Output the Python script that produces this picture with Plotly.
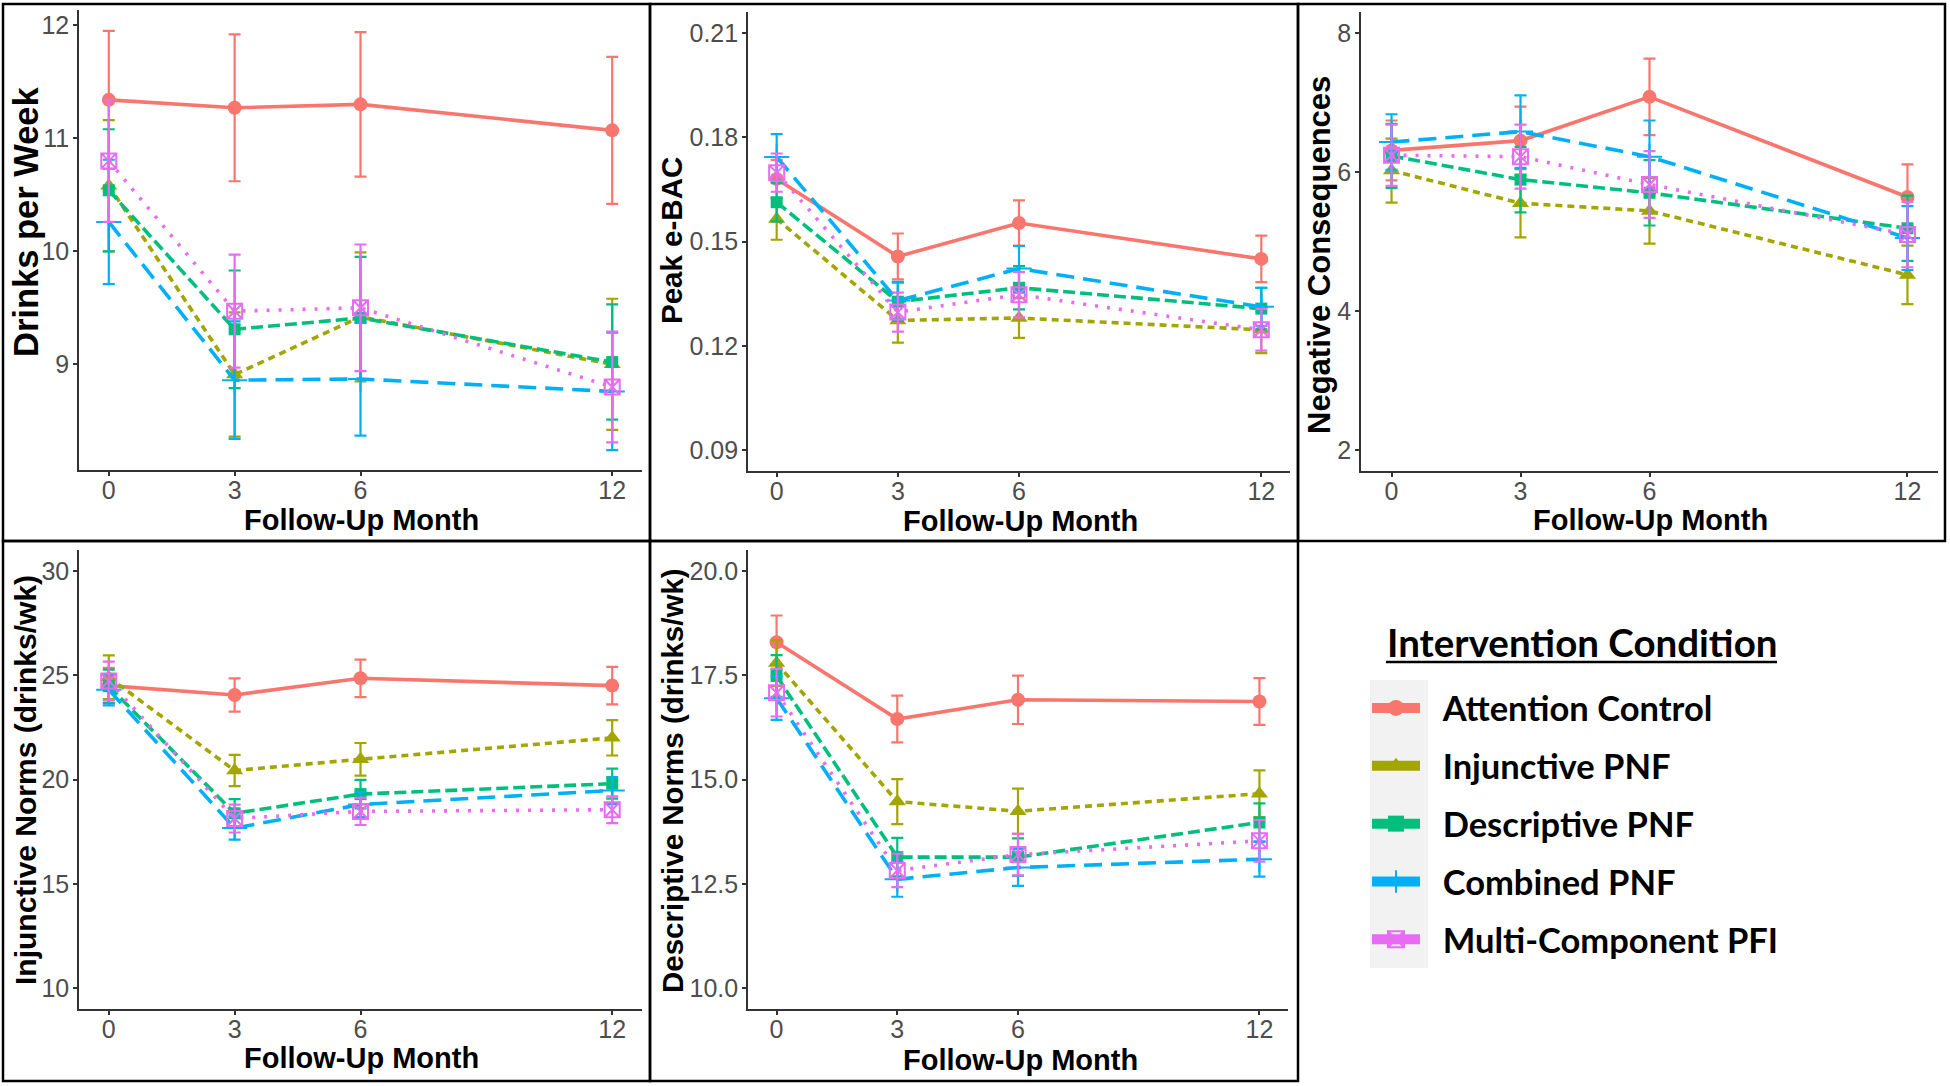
import plotly.graph_objects as go

W, H = 1950, 1086

months = [0, 3, 6, 12]
groups = ["Attention Control", "Injunctive PNF", "Descriptive PNF", "Combined PNF", "Multi-Component PFI"]

drinks_mean = [
    [11.34, 11.27, 11.30, 11.07],
    [10.58, 8.91, 9.42, 9.00],
    [10.54, 9.31, 9.41, 9.02],
    [10.26, 8.86, 8.87, 8.76],
    [10.80, 9.47, 9.50, 8.80],
]
drinks_se = [
    [0.61, 0.65, 0.64, 0.65],
    [0.58, 0.55, 0.57, 0.58],
    [0.54, 0.52, 0.54, 0.51],
    [0.55, 0.52, 0.50, 0.52],
    [0.54, 0.50, 0.56, 0.49],
]
bac_mean = [
    [0.1680, 0.1457, 0.1553, 0.1450],
    [0.1565, 0.1273, 0.1280, 0.1246],
    [0.1613, 0.1327, 0.1367, 0.1307],
    [0.1743, 0.1330, 0.1422, 0.1312],
    [0.1698, 0.1297, 0.1347, 0.1246],
]
bac_se = [
    [0.0055, 0.0066, 0.0065, 0.0067],
    [0.0060, 0.0064, 0.0057, 0.0067],
    [0.0055, 0.0055, 0.0062, 0.0060],
    [0.0066, 0.0054, 0.0065, 0.0055],
    [0.0055, 0.0056, 0.0065, 0.0060],
]
neg_mean = [
    [6.31, 6.45, 7.08, 5.64],
    [6.02, 5.55, 5.44, 4.52],
    [6.23, 5.89, 5.70, 5.19],
    [6.43, 6.58, 6.22, 5.05],
    [6.24, 6.22, 5.82, 5.10],
]
neg_se = [
    [0.43, 0.49, 0.55, 0.47],
    [0.46, 0.49, 0.47, 0.42],
    [0.46, 0.47, 0.47, 0.47],
    [0.40, 0.52, 0.52, 0.46],
    [0.44, 0.46, 0.48, 0.47],
]
inj_mean = [
    [24.50, 24.05, 24.85, 24.50],
    [24.90, 20.43, 20.97, 22.00],
    [24.47, 18.38, 19.30, 19.80],
    [24.30, 17.67, 18.80, 19.47],
    [24.72, 18.13, 18.47, 18.55],
]
inj_se = [
    [0.85, 0.80, 0.90, 0.90],
    [1.05, 0.75, 0.78, 0.85],
    [0.80, 0.68, 0.68, 0.72],
    [0.75, 0.55, 0.60, 0.65],
    [0.93, 0.67, 0.65, 0.64],
]
desc_mean = [
    [18.29, 16.45, 16.91, 16.87],
    [17.79, 14.47, 14.24, 14.66],
    [17.48, 13.14, 13.14, 13.97],
    [16.95, 12.61, 12.89, 13.09],
    [17.08, 12.82, 13.20, 13.53],
]
desc_se = [
    [0.64, 0.56, 0.58, 0.56],
    [0.55, 0.54, 0.54, 0.56],
    [0.50, 0.46, 0.45, 0.46],
    [0.52, 0.42, 0.44, 0.42],
    [0.57, 0.40, 0.50, 0.50],
]

panel_titles = ["Drinks per Week", "Peak e-BAC", "Negative Consequences",
                "Injunctive Norms (drinks/wk)", "Descriptive Norms (drinks/wk)"]
x_title = "Follow-Up Month"
y_tickvals = [[9, 10, 11, 12], [0.09, 0.12, 0.15, 0.18, 0.21], [2, 4, 6, 8],
              [10, 15, 20, 25, 30], [10, 12.5, 15, 17.5, 20]]
y_ticktext = [["9", "10", "11", "12"], ["0.09", "0.12", "0.15", "0.18", "0.21"],
              ["2", "4", "6", "8"], ["10", "15", "20", "25", "30"],
              ["10.0", "12.5", "15.0", "17.5", "20.0"]]
y_ranges = [[8.065, 12.135], [0.084, 0.216], [1.7, 8.3], [9, 31], [9.5, 20.5]]

colors = ["#F8766D", "#A3A500", "#00BF7D", "#00B0F6", "#E76BF3"]
dashes = ["solid", "7px,5px", "12px,5px", "18px,9px", "3px,9px"]
symbols = ["circle", "triangle-up", "square", "cross-thin", "square-x-open"]
msizes = [14, 15, 12, 18, 15]

means = [drinks_mean, bac_mean, neg_mean, inj_mean, desc_mean]
ses = [drinks_se, bac_se, neg_se, inj_se, desc_se]

# plot-area pixel boxes (left, top, right, bottom)
boxes = [(79, 10, 642, 470), (748, 12, 1290, 471), (1361, 12, 1938, 471),
         (79, 550, 642, 1009), (748, 550, 1288, 1009)]
panel_frames = [(3, 4, 650, 541), (650, 4, 1298, 541), (1298, 4, 1945, 541),
                (3, 541, 650, 1081), (650, 541, 1298, 1081)]
ytitle_pos = [(26, 222, 34.5), (672, 241, 29.5), (1319, 255, 31), (25, 780, 30), (672, 781, 29.5)]
xtitle_pos = [(361, 520), (1020, 521), (1650, 520), (361, 1058), (1020, 1060)]

FONT = "Liberation Sans, Arial, sans-serif"


def px(x):
    return x / W


def py(y):
    return 1 - y / H


fig = go.Figure()
layout = {}
for p in range(5):
    sfx = "" if p == 0 else str(p + 1)
    for g in range(5):
        mk = dict(symbol=symbols[g], size=msizes[g], color=colors[g])
        if symbols[g] in ("cross-thin", "square-x-open"):
            mk["line"] = dict(color=colors[g], width=2)
        fig.add_trace(go.Scatter(
            x=months, y=means[p][g], mode="lines+markers",
            xaxis="x" + sfx, yaxis="y" + sfx,
            line=dict(color=colors[g], width=3.6, dash=dashes[g]),
            marker=mk,
            error_y=dict(type="data", array=ses[p][g], visible=True,
                         color=colors[g], thickness=2.2, width=6),
            showlegend=False, name=groups[g]))
    l, t, r, b = boxes[p]
    layout["xaxis" + sfx] = dict(
        domain=[px(l), px(r)], range=[-0.71, 12.71], anchor="y" + sfx,
        tickvals=months, ticktext=[str(m) for m in months],
        showline=True, linecolor="#333333", linewidth=1.6, ticks="outside",
        ticklen=4, tickwidth=1.6, tickcolor="#333333", showgrid=False, zeroline=False,
        ticklabelstandoff=-7,
        tickfont=dict(family=FONT, size=25, color="#4D4D4D"))
    layout["yaxis" + sfx] = dict(
        domain=[py(b), py(t)], range=y_ranges[p], anchor="x" + sfx,
        tickvals=y_tickvals[p], ticktext=y_ticktext[p],
        showline=True, linecolor="#333333", linewidth=1.6, ticks="outside",
        ticklen=4, tickwidth=1.6, tickcolor="#333333", showgrid=False, zeroline=False,
        ticklabelstandoff=-1,
        tickfont=dict(family=FONT, size=25, color="#4D4D4D"))

# legend-only entries
NB = "\u00a0\u00a0"
for g in range(5):
    mk = dict(symbol=symbols[g], size=16, color=colors[g])
    if symbols[g] in ("cross-thin", "square-x-open"):
        mk["line"] = dict(color=colors[g], width=2)
    fig.add_trace(go.Scatter(
        x=[None], y=[None], mode="lines+markers", name=NB + "<b>" + groups[g] + "</b>",
        line=dict(color=colors[g], width=12), marker=mk,
        legendgroup="g" + str(g), showlegend=True))

shapes = []
for (l, t, r, b) in panel_frames:
    shapes.append(dict(type="rect", xref="paper", yref="paper",
                       x0=px(l), x1=px(r), y0=py(b), y1=py(t),
                       line=dict(color="black", width=2.5)))
# legend key background
shapes.append(dict(type="rect", xref="paper", yref="paper", layer="below",
                   x0=px(1370), x1=px(1428), y0=py(968), y1=py(680),
                   fillcolor="#F2F2F2", line=dict(width=0)))
# underline for legend title
shapes.append(dict(type="line", xref="paper", yref="paper",
                   x0=px(1386), x1=px(1777), y0=py(662), y1=py(662),
                   line=dict(color="black", width=2.5)))

annotations = []
for p in range(5):
    x, y, s = ytitle_pos[p]
    annotations.append(dict(text="<b>" + panel_titles[p] + "</b>", xref="paper", yref="paper",
                            x=px(x), y=py(y), textangle=-90, showarrow=False,
                            xanchor="center", yanchor="middle",
                            font=dict(family=FONT, size=s, color="black")))
    x, y = xtitle_pos[p]
    annotations.append(dict(text="<b>" + x_title + "</b>", xref="paper", yref="paper",
                            x=px(x), y=py(y), showarrow=False,
                            xanchor="center", yanchor="middle",
                            font=dict(family=FONT, size=29, color="black")))
annotations.append(dict(text="<b>Intervention Condition</b>", xref="paper", yref="paper",
                        x=px(1582), y=py(642), showarrow=False, xanchor="center", yanchor="middle",
                        font=dict(family="Lato", size=38.5, color="black")))

fig.update_layout(
    width=W, height=H, margin=dict(l=0, r=0, t=0, b=0),
    paper_bgcolor="white", plot_bgcolor="white",
    shapes=shapes, annotations=annotations,
    legend=dict(x=px(1367), y=py(679), xanchor="left", yanchor="top",
                bgcolor="rgba(0,0,0,0)", traceorder="grouped", tracegroupgap=10,
                itemwidth=48, font=dict(family="Lato", size=34.5, color="black")),
    **layout)

fig.write_html("out.html", config={"displayModeBar": False},
               post_script="document.body.style.margin='0px';document.body.style.overflow='hidden';")
